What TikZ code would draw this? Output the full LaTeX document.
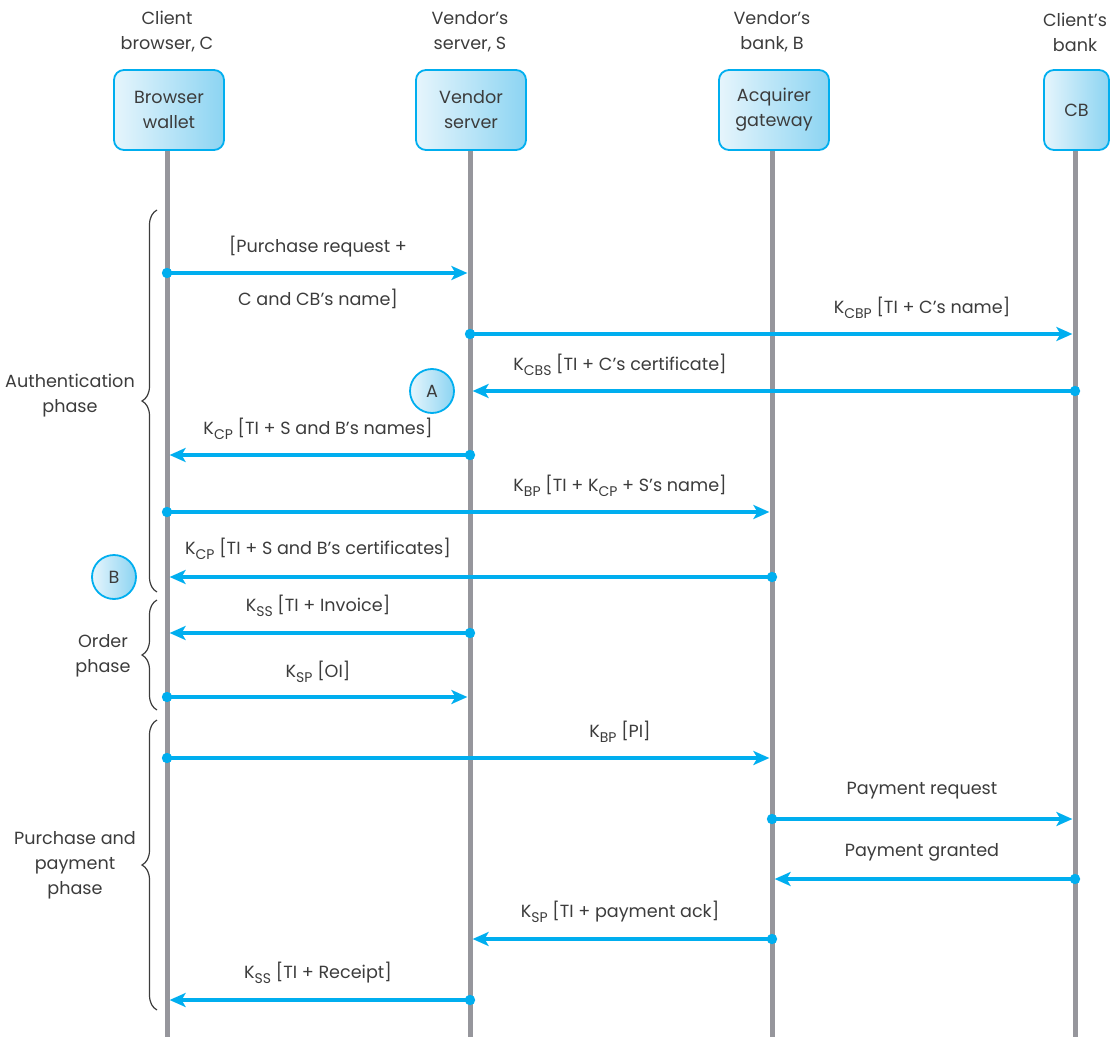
\documentclass[tikz,border=0pt]{standalone}
\usepackage{fontspec}
\setmainfont{Poppins}
\usetikzlibrary{arrows.meta,decorations.pathreplacing,calc}

\definecolor{msgblue}{RGB}{0,174,239}
\definecolor{lifegray}{RGB}{150,150,156}
\definecolor{boxlight}{RGB}{230,245,252}
\definecolor{boxdark}{RGB}{140,212,242}
\definecolor{txtgray}{RGB}{60,60,60}

% subscript for key names such as K_CBP
\newcommand{\ksub}[1]{\raisebox{-0.5ex}{\fontsize{7}{8}\selectfont #1}}

\tikzset{
  actor/.style={draw=msgblue, line width=0.9pt, rounded corners=5pt,
    left color=boxlight, right color=boxdark, minimum height=40pt,
    minimum width=55pt, align=center, inner sep=0pt},
  header/.style={align=center},
  life/.style={lifegray, line width=2.5pt},
  msg/.style={msgblue, line width=2pt,
    -{Stealth[length=8pt,width=7pt,inset=2pt]}, shorten >=1.3pt},
  lbl/.style={inner sep=0pt},
  tag/.style={circle, draw=msgblue, line width=0.9pt, minimum size=22pt,
    left color=boxlight, right color=boxdark, inner sep=0pt},
  phasebrace/.style={draw=txtgray, line width=0.6pt,
    decorate, decoration={brace, amplitude=7.5pt}},
  phase/.style={align=center},
}

% message: start coordinate, end coordinate (dot drawn at start)
\newcommand{\sendmsg}[2]{%
  \draw[msg] (#1) -- (#2);
  \fill[msgblue] (#1) circle (2.6pt);
}

\begin{document}
\begin{tikzpicture}[x=0.5pt, y=-0.5pt, font=\fontsize{8.8}{12.5}\selectfont, text=txtgray]
\useasboundingbox (0,0) rectangle (1112,1037);

% headers
\node[header] (hC) at (167,32) {Client\\browser, C};
\node[header] (hS) at (470,32) {Vendor’s\\server, S};
\node[header] (hB) at (772,32) {Vendor’s\\bank, B};
\node[header] (hCB) at (1075,32) {Client’s\\bank};

% participants
\coordinate (Cend) at (167,1037);
\coordinate (Send) at (470,1037);
\coordinate (Bend) at (772,1037);
\coordinate (CBend) at (1075,1037);
\draw[life] (167,150) -- (Cend);
\draw[life] (470,150) -- (Send);
\draw[life] (772,150) -- (Bend);
\draw[life] (1075,150) -- (CBend);
\node[actor] (C) at (169,110) {Browser\\wallet};
\node[actor] (S) at (471,110) {Vendor\\server};
\node[actor] (B) at (774,110) {Acquirer\\gateway};
\node[actor, minimum width=32.5pt] (CB) at (1076.5,110) {CB};

% message end points on the lifelines
\foreach \n/\y in {1/273,2/334,3/391,4/455,5/512,6/577,7/633,8/697,9/758,10/819,11/879,12/939,13/1000}{
  \coordinate (c\n) at (167,\y);
  \coordinate (s\n) at (470,\y);
  \coordinate (b\n) at (772,\y);
  \coordinate (cb\n) at (1075,\y);
}

% authentication phase
\sendmsg{c1}{s1}
\node[lbl] (l1a) at (318,247) {[Purchase request +};
\node[lbl] (l1b) at (318,299) {C and CB’s name]};
\sendmsg{s2}{cb2}
\node[lbl] (l2) at (922,308) {K\ksub{CBP} [TI + C’s name]};
\sendmsg{cb3}{s3}
\node[lbl] (l3) at (620,365) {K\ksub{CBS} [TI + C’s certificate]};
\node[tag] (A) at (432,391) {A};
\sendmsg{s4}{c4}
\node[lbl] (l4) at (318,429) {K\ksub{CP} [TI + S and B’s names]};
\sendmsg{c5}{b5}
\node[lbl] (l5) at (620,486) {K\ksub{BP} [TI + K\ksub{CP} + S’s name]};
\sendmsg{b6}{c6}
\node[lbl] (l6) at (318,549) {K\ksub{CP} [TI + S and B’s certificates]};
\node[tag] (Bt) at (114,577) {B};

% order phase
\sendmsg{s7}{c7}
\node[lbl] (l7) at (318,606) {K\ksub{SS} [TI + Invoice]};
\sendmsg{c8}{s8}
\node[lbl] (l8) at (318,672) {K\ksub{SP} [OI]};

% purchase and payment phase
\sendmsg{c9}{b9}
\node[lbl] (l9) at (620,732) {K\ksub{BP} [PI]};
\sendmsg{b10}{cb10}
\node[lbl] (l10) at (922,791) {Payment request};
\sendmsg{cb11}{b11}
\node[lbl] (l11) at (922,852) {Payment granted};
\sendmsg{b12}{s12}
\node[lbl] (l12) at (620,912) {K\ksub{SP} [TI + payment ack]};
\sendmsg{s13}{c13}
\node[lbl] (l13) at (318,973) {K\ksub{SS} [TI + Receipt]};

% phase braces
\draw[phasebrace] (157,592) -- (157,210);
\draw[phasebrace] (157,710) -- (157,600);
\draw[phasebrace] (157,1010) -- (157,720);
\node[phase] (p1) at (70,396) {Authentication\\phase};
\node[phase] (p2) at (103,656) {Order\\phase};
\node[phase] (p3) at (75,865) {Purchase and\\payment\\phase};
\end{tikzpicture}
\end{document}
